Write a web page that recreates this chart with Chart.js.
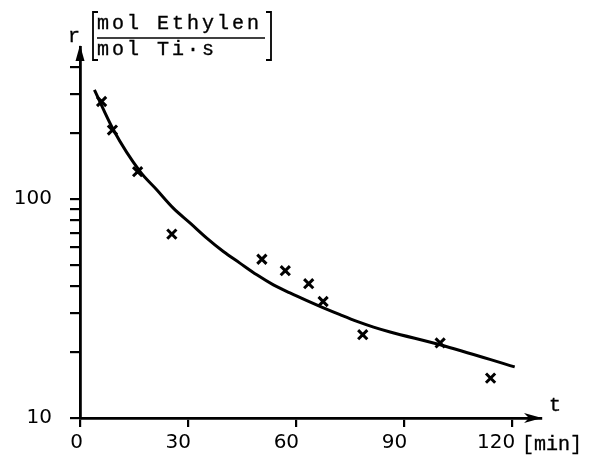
<!DOCTYPE html>
<html lang="de">
<head>
    <meta charset="UTF-8">
    <script src="https://cdn.jsdelivr.net/npm/chart.js@4"></script>
    <title>r over t</title>
    <style type="text/css">
        body { margin: 0; background: #fff; }
    </style>
</head>
<body>
    <div style="width:590px; height:457px;">
        <canvas id="rateCanvas" width="590" height="457"></canvas>
    </div>
<script>
// measured points (x marks)
const tMeasured = [6, 9, 16, 25.5, 50.5, 57, 63.5, 67.5, 78.5, 100, 114];
const rMeasured = [278, 206, 133, 69, 53, 47, 41, 34, 24, 22, 15.2];

// fitted curve
const tCurve = [4, 9.3, 16.7, 21.3, 25.9, 30.6, 35.2, 39.8, 44.4, 49.1, 53.7, 58.3, 63, 67.6, 72.2, 76.9, 81.5, 86.1, 100, 120.7];
const rCurve = [314, 206, 133, 110, 90.7, 77.5, 66.2, 57.5, 50.9, 45.0, 40.5, 37.2, 34.3, 31.8, 29.6, 27.6, 26.0, 24.7, 21.6, 17.1];

const xTicks = [0, 30, 60, 90, 120];
const yTicks = [10, 20, 30, 40, 50, 60, 70, 80, 90, 100, 200, 300, 400];
const yLabels = [10, 100];

const ink = '#000';

const decorations = {
    id: 'decorations',
    afterDraw(chart) {
        const ctx = chart.ctx;
        const area = chart.chartArea;
        ctx.save();
        ctx.fillStyle = ink;
        ctx.strokeStyle = ink;

        // arrow heads
        ctx.beginPath();
        ctx.moveTo(area.left, area.top - 2);
        ctx.lineTo(area.left - 4.5, area.top + 14);
        ctx.lineTo(area.left + 4.5, area.top + 14);
        ctx.closePath();
        ctx.fill();
        ctx.beginPath();
        ctx.moveTo(area.right + 1, area.bottom);
        ctx.lineTo(area.right - 17, area.bottom - 5);
        ctx.lineTo(area.right - 12, area.bottom);
        ctx.lineTo(area.right - 17, area.bottom + 5);
        ctx.closePath();
        ctx.fill();

        // typewriter text
        ctx.font = '20px "Liberation Mono"';
        ctx.textBaseline = 'alphabetic';
        ctx.textAlign = 'left';
        ctx.lineWidth = 0.35;
        const typeLine = (s, x, y, pitch) => {
            for (let i = 0; i < s.length; i++) {
                ctx.fillText(s[i], x + i * pitch, y);
                ctx.strokeText(s[i], x + i * pitch, y);
            }
        };
        typeLine('r', 68, 42, 15);
        typeLine('mol Ethylen', 97, 29, 15);
        typeLine('mol Ti\u00b7s', 97, 55, 15);
        typeLine('t', 549, 411, 12);
        typeLine('[min]', 522, 450, 12);

        // brackets and fraction bar
        ctx.lineWidth = 1.8;
        ctx.beginPath();
        ctx.moveTo(98, 12); ctx.lineTo(93, 12); ctx.lineTo(93, 60); ctx.lineTo(98, 60);
        ctx.moveTo(266, 12); ctx.lineTo(271, 12); ctx.lineTo(271, 60); ctx.lineTo(266, 60);
        ctx.stroke();
        ctx.lineWidth = 1.6;
        ctx.beginPath();
        ctx.moveTo(97, 38); ctx.lineTo(265, 38);
        ctx.stroke();
        ctx.restore();
    }
};

var ctx = document.getElementById('rateCanvas');
var chart = new Chart(ctx, {
    type: 'scatter',
    data: {
        datasets: [
        {
            label: 'Messwerte',
            data: tMeasured.map((t, i) => ({x: t, y: rMeasured[i]})),
            pointStyle: 'crossRot',
            pointRadius: 6.5,
            borderColor: ink,
            borderWidth: 3,
            showLine: false
        },
        {
            label: 'Kurve',
            data: tCurve.map((t, i) => ({x: t, y: rCurve[i]})),
            showLine: true,
            pointRadius: 0,
            borderColor: ink,
            borderWidth: 3,
            cubicInterpolationMode: 'monotone'
        }]
    },
    options: {
        responsive: false,
        animation: false,
        layout: {padding: {top: 47, right: 49, left: 0, bottom: 0}},
        plugins: {
            legend: {display: false},
            tooltip: {enabled: false}
        },
        scales: {
            x: {
                type: 'linear',
                min: 0,
                max: 128,
                afterBuildTicks: s => { s.ticks = xTicks.map(v => ({value: v})); },
                afterFit: s => { s.height = 39; },
                grid: {drawOnChartArea: false, color: ink, lineWidth: 2.2, tickLength: 9},
                border: {color: ink, width: 2.8},
                ticks: {
                    color: ink,
                    align: 'end',
                    labelOffset: 3,
                    padding: 4,
                    maxRotation: 0,
                    autoSkip: false,
                    font: {family: '"DejaVu Sans"', size: 20}
                }
            },
            y: {
                type: 'logarithmic',
                min: 10,
                max: 493,
                afterBuildTicks: s => { s.ticks = yTicks.map(v => ({value: v})); },
                afterFit: s => { s.width = 80; },
                grid: {drawOnChartArea: false, color: ink, lineWidth: 2.2, tickLength: 10},
                border: {color: ink, width: 2.8},
                ticks: {
                    color: ink,
                    padding: 18,
                    autoSkip: false,
                    font: {family: '"DejaVu Sans"', size: 20},
                    callback: v => yLabels.includes(v) ? String(v) : ''
                }
            }
        }
    },
    plugins: [decorations]
});
</script>
</body>
</html>
